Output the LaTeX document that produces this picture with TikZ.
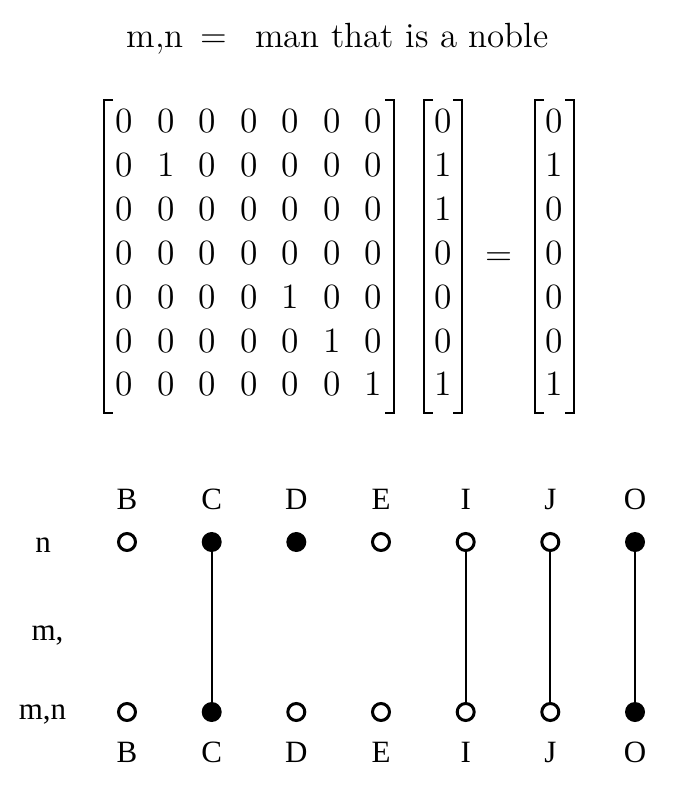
\documentclass[tikz,border=0pt]{standalone}
\usepackage{fontspec}
\newfontfamily\tnr{Liberation Serif}
\newfontfamily\lmt{lmroman12-regular}[Extension=.otf]
\begin{document}
\begin{tikzpicture}[x=1pt,y=-1pt,
  lm/.style={font=\lmt\fontsize{35.5}{43}\selectfont, inner sep=0pt, anchor=base},
  ttl/.style={font=\lmt\fontsize{35}{43}\selectfont, inner sep=0pt, anchor=base},
  tl/.style={font=\tnr\fontsize{31}{36}\selectfont, inner sep=0pt, anchor=base},
  opendot/.style={circle, draw, line width=3pt, minimum size=17pt, inner sep=0pt},
  fulldot/.style={circle, fill, minimum size=20pt, inner sep=0pt},
  brk/.style={line width=2pt},
  link/.style={line width=1.7pt}]
\useasboundingbox (0,0) rectangle (677,794);

% title
\node[ttl, anchor=base east] (t1) at (184,47.5) {m,n};
\node[ttl] (t2) at (214,47.5) {=};
\node[ttl, anchor=base west] (t3) at (255,47.5) {man that is a noble};

% matrix entries
\foreach \row [count=\i] in {{0,0,0,0,0,0,0},{0,1,0,0,0,0,0},{0,0,0,0,0,0,0},{0,0,0,0,0,0,0},{0,0,0,0,1,0,0},{0,0,0,0,0,1,0},{0,0,0,0,0,0,1}}{
  \foreach \v [count=\j] in \row {
    \node[lm] (m-\i-\j) at ({124.5+41.5*(\j-1)},{133+43.8*(\i-1)}) {\v};
  }
}
% vector
\foreach \v [count=\i] in {0,1,1,0,0,0,1}{
  \node[lm] (v-\i) at (443,{133+43.8*(\i-1)}) {\v};
}
% result
\foreach \v [count=\i] in {0,1,0,0,0,0,1}{
  \node[lm] (r-\i) at (554.5,{133+43.8*(\i-1)}) {\v};
}
\node[lm] (eq) at (499,265) {=};

% brackets
\foreach \l/\r in {104/394, 424/462, 535/574}{
  \draw[brk] (\l+9,100) -- (\l,100) -- (\l,413) -- (\l+9,413);
  \draw[brk] (\r-9,100) -- (\r,100) -- (\r,413) -- (\r-9,413);
}

% bottom diagram
\node[tl] (ln) at (43,552) {n};
\node[tl] (lm1) at (47.5,640) {m,};
\node[tl] (lmn) at (42.5,719) {m,n};

\foreach \name/\x/\top/\bot in {B/127/opendot/opendot, C/211.7/fulldot/fulldot, D/296.3/fulldot/opendot, E/381/opendot/opendot, I/465.7/opendot/opendot, J/550.3/opendot/opendot, O/635/fulldot/fulldot}{
  \node[tl] (top\name) at (\x,509) {\name};
  \node[tl] (bot\name) at (\x,762) {\name};
  \node[\top] (u\name) at (\x,542) {};
  \node[\bot] (d\name) at (\x,712) {};
}
\foreach \name in {C,I,J,O}{
  \draw[link] (u\name) -- (d\name);
}
\end{tikzpicture}
\end{document}
